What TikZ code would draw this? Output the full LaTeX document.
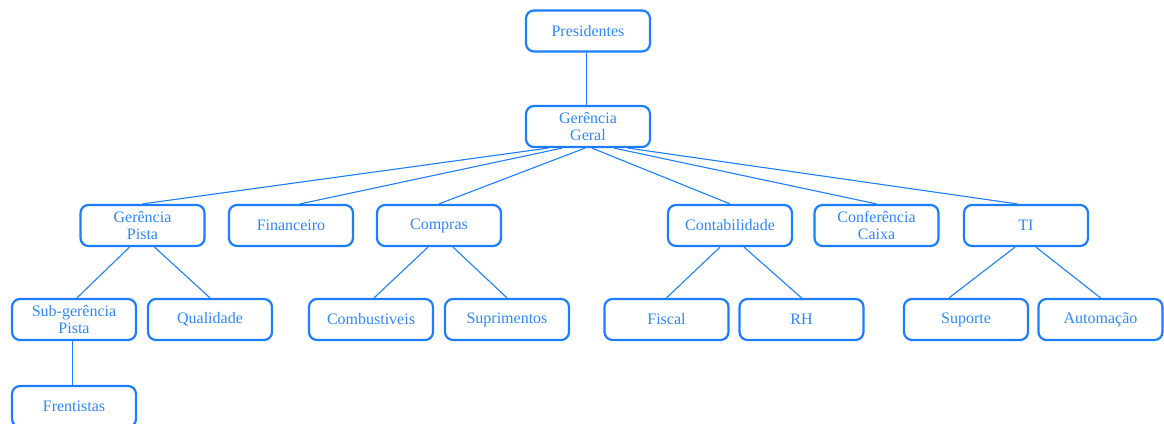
\documentclass[tikz,border=0pt]{standalone}
\usepackage{fontspec}
\setmainfont{Liberation Serif}
\definecolor{boxblue}{RGB}{28,126,255}
\definecolor{txtblue}{RGB}{45,135,250}
\begin{document}
\begin{tikzpicture}[x=1pt,y=-1pt,
  box/.style={draw=boxblue, line width=2.2pt, rounded corners=8pt,
    minimum width=124pt, minimum height=41pt, inner sep=0pt, align=center,
    text=txtblue, font=\fontsize{16}{17}\selectfont},
  link/.style={draw=boxblue, line width=1.1pt}]
\useasboundingbox (0,0) rectangle (1164,423);
\clip (0,0) rectangle (1164,423);

% top levels
\node[box] (pres) at (588,31) {Presidentes};
\node[box] (gg)   at (588,126.5) {Gerência\\Geral};

% departments
\node[box] (gp)   at (142.5,225.5) {Gerência\\Pista};
\node[box] (fin)  at (291,225.5) {Financeiro};
\node[box] (comp) at (439,225.5) {Compras};
\node[box] (cont) at (730,225.5) {Contabilidade};
\node[box] (conf) at (876.5,225.5) {Conferência\\Caixa};
\node[box] (ti)   at (1026,225.5) {TI};

% sub-areas
\node[box] (sgp)  at (74,319.5) {Sub-gerência\\Pista};
\node[box] (qual) at (210,319.5) {Qualidade};
\node[box] (comb) at (371,319.5) {Combustiveis};
\node[box] (supr) at (507,319.5) {Suprimentos};
\node[box] (fisc) at (666.5,319.5) {Fiscal};
\node[box] (rh)   at (801.5,319.5) {RH};
\node[box] (sup)  at (966,319.5) {Suporte};
\node[box] (auto) at (1100.5,319.5) {Automação};

\node[box] (fren) at (74,406.5) {Frentistas};

% connectors
\draw[link] ([xshift=-1.5pt]pres.south) -- ([xshift=-1.5pt]gg.north);
\draw[link] ([xshift=-40pt]gg.south) -- (gp.north);
\draw[link] ([xshift=-26pt]gg.south) -- ([xshift=9pt]fin.north);
\draw[link] ([xshift=-3pt]gg.south) -- (comp.north);
\draw[link] ([xshift=4pt]gg.south) -- (cont.north);
\draw[link] ([xshift=26pt]gg.south) -- (conf.north);
\draw[link] ([xshift=40pt]gg.south) -- ([xshift=-9pt]ti.north);

\draw[link] ([xshift=-13pt]gp.south) -- ([xshift=3pt]sgp.north);
\draw[link] ([xshift=12pt]gp.south) -- (qual.north);
\draw[link] ([xshift=-11pt]comp.south) -- ([xshift=3pt]comb.north);
\draw[link] ([xshift=14pt]comp.south) -- (supr.north);
\draw[link] ([xshift=-10pt]cont.south) -- (fisc.north);
\draw[link] ([xshift=14pt]cont.south) -- (rh.north);
\draw[link] ([xshift=-11pt]ti.south) -- ([xshift=-17pt]sup.north);
\draw[link] ([xshift=10pt]ti.south) -- (auto.north);

\draw[link] ([xshift=-1.5pt]sgp.south) -- ([xshift=-1.5pt]fren.north);
\end{tikzpicture}
\end{document}
